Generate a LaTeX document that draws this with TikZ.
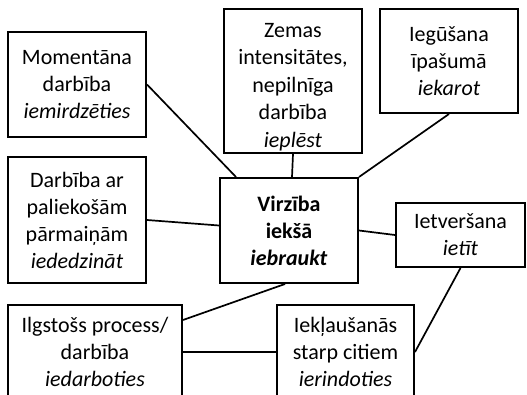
\documentclass[tikz,border=0pt]{standalone}
\usepackage{fontspec}
\setmainfont{Carlito}

\begin{document}
\begin{tikzpicture}[
  x=1pt, y=-1pt,
  box/.style={
    draw=black,
    fill=white,
    line width=2pt,
    minimum width=138pt,
    align=center,
    inner sep=2pt,
    font=\fontsize{22}{27}\selectfont
  },
  link/.style={draw=black, line width=1.7pt}
]
\useasboundingbox (0,0) rectangle (527,395);
\clip (0,0) rectangle (527,395);

\node[box, minimum height=105pt] (momentary) at (77,84.5) {
  Momentāna\\darbība\\\textit{iemirdzēties}
};
\node[box, minimum height=126pt] (lasting) at (77,220) {
  Darbība ar\\paliekošām\\pārmaiņām\\\textit{iededzināt}
};
\node[box, minimum height=144pt, inner ysep=0pt,
  font=\fontsize{22}{27.5}\selectfont] (weak) at (293,81) {
  \rule{0pt}{26pt}Zemas\\intensitātes,\\nepilnīga\\darbība\\\textit{ieplēst}
};
\node[box, minimum height=104pt] (gain) at (449,61) {
  Iegūšana\\īpašumā\\\textit{iekarot}
};
\node[box, minimum height=105pt] (core) at (289,230.5) {
  \textbf{Virzība}\\\textbf{iekšā}\\\textbf{\textit{iebraukt}}
};
\node[box, minimum width=129pt, minimum height=64pt] (enclose) at (460.5,235) {
  Ietveršana\\\textit{ietīt}
};
\node[box, minimum width=174pt, minimum height=94pt] (process) at (95,352) {
  Ilgstošs process/\\darbība\\\textit{iedarboties}
};
\node[box, minimum width=137pt, minimum height=94pt] (among) at (345.5,352) {
  Iekļaušanās\\starp citiem\\\textit{ierindoties}
};

\draw[link] (momentary.east) -- ([xshift=17pt]core.north west);
\draw[link] (weak.south) -- ([xshift=3pt]core.north);
\draw[link] (gain.south) -- (core.north east);
\draw[link] (lasting.east) -- ([yshift=5pt]core.west);
\draw[link] (core.east) -- (enclose.west);
\draw[link] ([yshift=-16pt]process.north east) -- ([xshift=-4pt]core.south);
\draw[link] (process.east) -- (among.west);
\draw[link] (enclose.south) -- (among.east);

\end{tikzpicture}
\end{document}
